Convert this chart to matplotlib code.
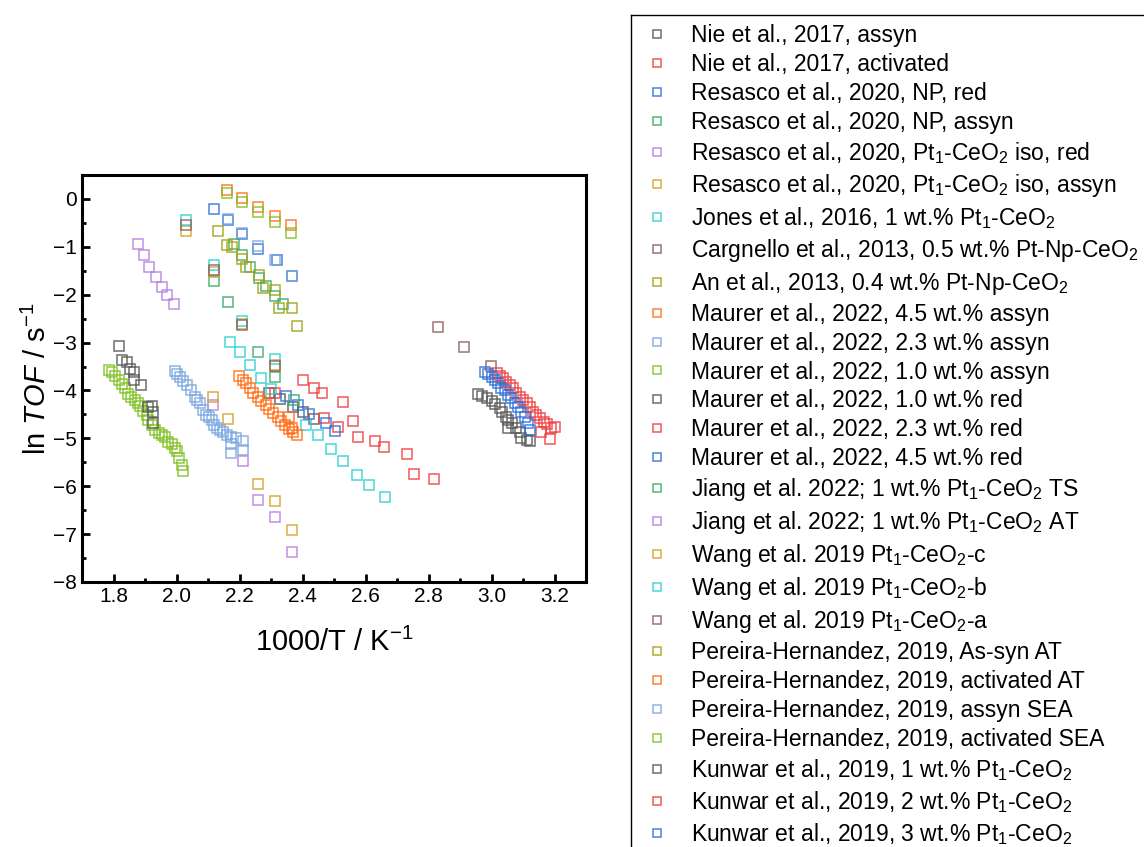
import numpy as np
import matplotlib.pyplot as plt
from matplotlib.lines import Line2D
from matplotlib.ticker import MultipleLocator

plt.rcParams['font.family'] = ['Liberation Sans', 'DejaVu Sans']
plt.rcParams['mathtext.fontset'] = 'custom'
plt.rcParams['mathtext.rm'] = 'Liberation Sans'
plt.rcParams['mathtext.it'] = 'Liberation Sans:italic'

# ---- data (1000/T in K^-1, ln TOF) ----
nie_assyn_x = [2.292, 2.33, 2.37, 2.40, 2.437]
nie_assyn_y = [-4.06, -4.17, -4.35, -4.45, -4.60]
nie_act_x = [2.40, 2.437, 2.463, 2.527, 2.561, 2.576, 2.629, 2.66, 2.732, 2.755, 2.817]
nie_act_y = [-3.79, -3.95, -4.05, -4.25, -4.63, -4.97, -5.05, -5.18, -5.33, -5.75, -5.84]
res_np_red_x = [2.118, 2.163, 2.207, 2.258, 2.318, 2.365]
res_np_red_y = [-0.22, -0.45, -0.74, -1.05, -1.28, -1.62]
res_np_assyn_x = [2.184, 2.207, 2.232, 2.261, 2.284, 2.313, 2.337]
res_np_assyn_y = [-0.94, -1.17, -1.42, -1.65, -1.81, -2.02, -2.20]
res_iso_red_x = [2.116, 2.21, 2.258, 2.313, 2.365]
res_iso_red_y = [-4.30, -5.47, -6.28, -6.64, -7.37]
res_iso_assyn_x = [2.116, 2.163, 2.258, 2.313, 2.365]
res_iso_assyn_y = [-4.13, -4.60, -5.96, -6.31, -6.92]
jones_x = [2.17, 2.202, 2.234, 2.269, 2.30, 2.411, 2.45, 2.49, 2.53, 2.572, 2.61, 2.661]
jones_y = [-2.99, -3.20, -3.47, -3.73, -3.96, -4.72, -4.93, -5.23, -5.47, -5.77, -5.98, -6.23]
cargnello_x = [2.831, 2.911, 2.999]
cargnello_y = [-2.68, -3.10, -3.48]
an_x = [2.132, 2.16, 2.207, 2.261, 2.311, 2.365]
an_y = [-0.68, -0.96, -1.26, -1.58, -1.91, -2.27]
m45_assyn_x = [2.198, 2.211, 2.221, 2.234, 2.244, 2.258, 2.269, 2.284, 2.295, 2.307,
               2.321, 2.332, 2.345, 2.356, 2.369, 2.381, 2.358, 2.365]
m45_assyn_y = [-3.70, -3.78, -3.85, -3.95, -4.05, -4.14, -4.23, -4.30, -4.39, -4.48,
               -4.55, -4.63, -4.72, -4.81, -4.86, -4.93, -4.55, -4.78]
m23_assyn_x = [1.995, 2.003, 2.011, 2.02, 2.032, 2.045, 2.058, 2.066, 2.074, 2.085,
               2.095, 2.103, 2.111, 2.12, 2.127, 2.138, 2.148, 2.16, 2.174, 2.19,
               2.21, 2.174, 2.174, 2.21]
m23_assyn_y = [-3.60, -3.65, -3.71, -3.80, -3.88, -4.00, -4.13, -4.20, -4.27, -4.40,
               -4.51, -4.56, -4.62, -4.72, -4.79, -4.82, -4.86, -4.92, -4.97, -5.00,
               -5.06, -5.12, -5.31, -5.24]
m10_assyn_x = [1.785, 1.795, 1.805, 1.816, 1.826, 1.836, 1.847, 1.857, 1.867, 1.877,
               1.884, 1.895, 1.905, 1.911, 1.922, 1.932, 1.943, 1.953, 1.964, 1.974,
               1.985, 1.995, 2.0, 2.008, 2.016, 2.021]
m10_assyn_y = [-3.57, -3.62, -3.70, -3.78, -3.86, -3.95, -4.07, -4.13, -4.20, -4.27,
               -4.32, -4.42, -4.52, -4.62, -4.72, -4.83, -4.88, -4.93, -4.98, -5.07,
               -5.12, -5.20, -5.27, -5.42, -5.56, -5.68]
m10_red_x = [1.816, 1.826, 1.844, 1.853, 1.866, 1.866, 1.887, 1.909, 1.921, 1.924, 1.924]
m10_red_y = [-3.07, -3.36, -3.41, -3.56, -3.62, -3.78, -3.88, -4.34, -4.32, -4.46, -4.67]
m23_red_x = [2.313, 2.468, 2.514]
m23_red_y = [-4.05, -4.58, -4.76]
m45_red_x = [2.347, 2.384, 2.421, 2.474, 2.502]
m45_red_y = [-4.12, -4.30, -4.50, -4.67, -4.84]
jiang_ts_x = [2.118, 2.163, 2.258, 2.313, 2.373]
jiang_ts_y = [-1.71, -2.16, -3.19, -3.71, -4.20]
jiang_at_x = [1.877, 1.897, 1.914, 1.934, 1.953, 1.971, 1.993]
jiang_at_y = [-0.94, -1.17, -1.43, -1.64, -1.83, -2.01, -2.20]
wang_c_x = [2.03, 2.118, 2.207, 2.313]
wang_c_y = [-0.67, -1.52, -2.62, -3.46]
wang_b_x = [2.03, 2.118, 2.207, 2.313]
wang_b_y = [-0.43, -1.37, -2.54, -3.34]
wang_a_x = [2.03, 2.118, 2.207, 2.313]
wang_a_y = [-0.54, -1.48, -2.64, -3.49]
per_assyn_at_x = [2.177, 2.22, 2.274, 2.326, 2.381]
per_assyn_at_y = [-1.01, -1.42, -1.86, -2.27, -2.66]
per_act_at_x = [2.16, 2.207, 2.258, 2.311, 2.363]
per_act_at_y = [0.18, 0.02, -0.17, -0.36, -0.55]
per_assyn_sea_x = [2.163, 2.207, 2.258, 2.313, 2.365]
per_assyn_sea_y = [-0.42, -0.71, -0.98, -1.28, -1.60]
per_act_sea_x = [2.16, 2.207, 2.258, 2.311, 2.363]
per_act_sea_y = [0.12, -0.06, -0.28, -0.48, -0.71]
kun1_x = [2.958, 2.971, 2.984, 3.0, 3.012, 3.026, 3.034, 3.047, 3.053, 3.065,
          3.053, 3.079, 3.09, 3.095, 3.111, 3.123]
kun1_y = [-4.07, -4.11, -4.16, -4.23, -4.29, -4.37, -4.44, -4.55, -4.62, -4.69,
          -4.79, -4.79, -4.86, -5.00, -5.04, -5.06]
kun2_x = [3.016, 3.026, 3.037, 3.047, 3.058, 3.068, 3.079, 3.09, 3.1, 3.111,
          3.121, 3.132, 3.142, 3.153, 3.166, 3.177, 3.19, 3.158, 3.184, 3.2]
kun2_y = [-3.64, -3.70, -3.75, -3.82, -3.88, -3.95, -4.05, -4.13, -4.20, -4.27,
          -4.35, -4.44, -4.51, -4.58, -4.65, -4.70, -4.79, -4.86, -5.02, -4.76]
kun3_x = [2.979, 2.989, 3.0, 3.011, 3.021, 3.031, 3.042, 3.053, 3.063, 3.074,
          3.084, 3.095, 3.105, 3.116, 3.121]
kun3_y = [-3.61, -3.65, -3.71, -3.78, -3.85, -3.94, -4.00, -4.09, -4.16, -4.27,
          -4.34, -4.44, -4.55, -4.69, -4.83]

labels = [
    'Nie et al., 2017, assyn',
    'Nie et al., 2017, activated',
    'Resasco et al., 2020, NP, red',
    'Resasco et al., 2020, NP, assyn',
    r'Resasco et al., 2020, Pt$_1$-CeO$_2$ iso, red',
    r'Resasco et al., 2020, Pt$_1$-CeO$_2$ iso, assyn',
    r'Jones et al., 2016, 1 wt.% Pt$_1$-CeO$_2$',
    r'Cargnello et al., 2013, 0.5 wt.% Pt-Np-CeO$_2$',
    r'An et al., 2013, 0.4 wt.% Pt-Np-CeO$_2$',
    'Maurer et al., 2022, 4.5 wt.% assyn',
    'Maurer et al., 2022, 2.3 wt.% assyn',
    'Maurer et al., 2022, 1.0 wt.% assyn',
    'Maurer et al., 2022, 1.0 wt.% red',
    'Maurer et al., 2022, 2.3 wt.% red',
    'Maurer et al., 2022, 4.5 wt.% red',
    r'Jiang et al. 2022; 1 wt.% Pt$_1$-CeO$_2$ TS',
    r'Jiang et al. 2022; 1 wt.% Pt$_1$-CeO$_2$ AT',
    r'Wang et al. 2019 Pt$_1$-CeO$_2$-c',
    r'Wang et al. 2019 Pt$_1$-CeO$_2$-b',
    r'Wang et al. 2019 Pt$_1$-CeO$_2$-a',
    'Pereira-Hernandez, 2019, As-syn AT',
    'Pereira-Hernandez, 2019, activated AT',
    'Pereira-Hernandez, 2019, assyn SEA',
    'Pereira-Hernandez, 2019, activated SEA',
    r'Kunwar et al., 2019, 1 wt.% Pt$_1$-CeO$_2$',
    r'Kunwar et al., 2019, 2 wt.% Pt$_1$-CeO$_2$',
    r'Kunwar et al., 2019, 3 wt.% Pt$_1$-CeO$_2$',
]
xs = [nie_assyn_x, nie_act_x, res_np_red_x, res_np_assyn_x, res_iso_red_x, res_iso_assyn_x,
      jones_x, cargnello_x, an_x, m45_assyn_x, m23_assyn_x, m10_assyn_x, m10_red_x,
      m23_red_x, m45_red_x, jiang_ts_x, jiang_at_x, wang_c_x, wang_b_x, wang_a_x,
      per_assyn_at_x, per_act_at_x, per_assyn_sea_x, per_act_sea_x, kun1_x, kun2_x, kun3_x]
ys = [nie_assyn_y, nie_act_y, res_np_red_y, res_np_assyn_y, res_iso_red_y, res_iso_assyn_y,
      jones_y, cargnello_y, an_y, m45_assyn_y, m23_assyn_y, m10_assyn_y, m10_red_y,
      m23_red_y, m45_red_y, jiang_ts_y, jiang_at_y, wang_c_y, wang_b_y, wang_a_y,
      per_assyn_at_y, per_act_at_y, per_assyn_sea_y, per_act_sea_y, kun1_y, kun2_y, kun3_y]

# Origin-like colour cycle
palette = ['#555555', '#f03c3c', '#2a6fdb', '#35a865', '#b57ee0', '#d4a020',
           '#28d0d0', '#8f5a5a', '#a0a010', '#ff6a10', '#7aa6e0', '#7ec020']

fig = plt.figure(figsize=(11.44, 8.47), dpi=100)
ax = fig.add_axes([0.0717, 0.3129, 0.4406, 0.4805])

for i, (x, y, lab) in enumerate(zip(xs, ys, labels)):
    ax.plot(x, y, ls='none', marker='s', ms=7.2, mfc='none', mew=1.1,
            mec=palette[i % 12], alpha=0.85, label=lab)

ax.set_xlim(1.7, 3.3)
ax.set_ylim(-8, 0.5)
ax.xaxis.set_minor_locator(MultipleLocator(0.1))
ax.yaxis.set_major_locator(MultipleLocator(1))
ax.yaxis.set_minor_locator(MultipleLocator(0.5))
ax.set_xticks(np.arange(1.8, 3.21, 0.2))
ax.set_xticklabels(['%.1f' % v for v in np.arange(1.8, 3.21, 0.2)])

for s in ax.spines.values():
    s.set_linewidth(2.2)
ax.tick_params(which='both', direction='in', top=False, right=False, labelsize=15, width=2.0)
ax.tick_params(which='major', length=6)
ax.tick_params(which='minor', length=3)

ax.set_xlabel(r'1000/T / K$^{\mathrm{-1}}$', fontsize=21, labelpad=16)
ax.set_ylabel(r'ln $\mathit{TOF}$ / s$^{\mathrm{-1}}$', fontsize=21, labelpad=1)

leg = fig.legend(loc='upper left', bbox_to_anchor=(631 / 1144, 1 - 15 / 847),
                 fontsize=16.5, frameon=False,
                 borderpad=0.4, handlelength=1.5, handletextpad=0.7, labelspacing=0.26,
                 markerscale=0.75, borderaxespad=0)

# legend box runs off the figure: only its top and left edges show
x0, y0 = 631 / 1144, 1 - 15 / 847
fig.add_artist(Line2D([x0, 1.0], [y0, y0], color='black', lw=1.0, transform=fig.transFigure))
fig.add_artist(Line2D([x0, x0], [0.0, y0], color='black', lw=1.0, transform=fig.transFigure))

fig.savefig('out.png', dpi=100)
